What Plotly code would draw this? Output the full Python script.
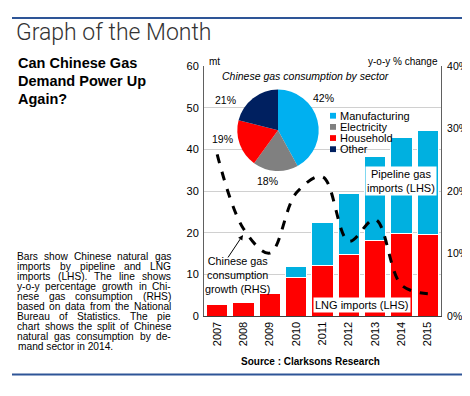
import plotly.graph_objects as go

# The page has an 8px body margin, so the figure is made 8px smaller and
# positions below are given in window pixels.
OFF = 8
W, H = 470 - OFF, 396 - OFF
def px(x): return (x - OFF) / W
def py(y): return 1 - (y - OFF) / H

years = ["2007", "2008", "2009", "2010", "2011", "2012", "2013", "2014", "2015"]
lng_imports = [2.9, 3.3, 5.5, 9.3, 12.2, 14.8, 18.1, 19.9, 19.7]
pipeline_imports = [0, 0, 0, 2.6, 10.3, 14.6, 20.3, 23.0, 24.8]
consumption_growth = [0.259, 0.14, 0.101, 0.197, 0.223, 0.12, 0.155, 0.05, 0.036]

sectors = ["Manufacturing", "Electricity", "Household", "Other"]
sector_share = [42, 18, 19, 21]
sector_colors = ["#00B0F0", "#808080", "#FF0000", "#002060"]

left_ticks = [0, 10, 20, 30, 40, 50, 60]
right_ticks = [0, 0.1, 0.2, 0.3, 0.4]
right_tick_text = ["0%", "10%", "20%", "30%", "40%"]

body = ["Bars show Chinese natural gas",
        "imports by pipeline and LNG",
        "imports (LHS). The line shows",
        "y-o-y percentage growth in Chi-",
        "nese gas consumption (RHS)",
        "based on data from the National",
        "Bureau of Statistics. The pie",
        "chart shows the split of Chinese",
        "natural gas consumption by de-",
        "mand sector in 2014."]

FONT = "Liberation Sans, Arial, sans-serif"

fig = go.Figure()
fig.add_trace(go.Bar(x=years, y=lng_imports, name="LNG imports (LHS)",
                     marker=dict(color="#FF0000", line=dict(color="white", width=1)),
                     showlegend=False))
fig.add_trace(go.Bar(x=years, y=pipeline_imports, name="Pipeline gas imports (LHS)",
                     marker=dict(color="#00B0E0", line=dict(color="white", width=1)),
                     showlegend=False))
fig.add_trace(go.Scatter(x=years, y=consumption_growth, yaxis="y2", mode="lines",
                         line=dict(color="black", width=3, dash="dash", shape="spline", smoothing=1.0),
                         showlegend=False))
fig.add_trace(go.Pie(labels=sectors, values=sector_share, sort=False, direction="clockwise",
                     rotation=0, marker=dict(colors=sector_colors), textinfo="none",
                     hoverinfo="skip", showlegend=False,
                     domain=dict(x=[px(236), px(320)], y=[py(170), py(86)])))

x0, x1 = 204, 441
y0, y1 = 320, 61.7
fig.update_layout(
    width=W, height=H, margin=dict(l=0, r=0, t=0, b=0),
    paper_bgcolor="white", plot_bgcolor="white",
    barmode="stack", bargap=0.2,
    font=dict(family=FONT, size=11, color="black"),
    xaxis=dict(domain=[px(x0), px(x1)], tickangle=-90, showline=True, linecolor="#404040",
               linewidth=1, ticks="", tickfont=dict(size=11), showgrid=False),
    yaxis=dict(domain=[py(y0), py(y1)], range=[0, 60], tickvals=left_ticks,
               showline=True, linecolor="#606060", linewidth=1, gridcolor="#D0D0D0",
               ticks="", tickfont=dict(size=11), zeroline=False, ticklabelstandoff=2),
    yaxis2=dict(overlaying="y", side="right", range=[0, 0.4], tickvals=right_ticks,
                ticktext=right_tick_text, showline=True, linecolor="#606060", linewidth=1,
                showgrid=False, ticks="", tickfont=dict(size=10.5), zeroline=False,
                ticklabelstandoff=3),
)

ann = []
def add(text, x, y, xa="left", size=11, **kw):
    d = dict(text=text, x=px(x), y=py(y), xref="paper", yref="paper", xanchor=xa,
             yanchor="middle", showarrow=False,
             font=dict(size=size, family=kw.pop("family", FONT), color=kw.pop("color", "black"),
                       weight=kw.pop("weight", "normal")))
    d.update(kw)
    ann.append(d)

add("Graph of the Month", 14, 27, size=23, color="#333333", family="Roboto, Liberation Sans, sans-serif", weight=300)
for i, line in enumerate(["Can Chinese Gas", "Demand Power Up", "Again?"]):
    add(line, 16, 59 + i * 18.2, size=14.5, weight="bold")

# Arial / Liberation Sans advance widths (per 1000 em) for justified body text
AW = {" ": 278, "a": 556, "b": 556, "c": 500, "d": 556, "e": 556, "f": 278, "g": 556,
      "h": 556, "i": 222, "j": 222, "k": 500, "l": 222, "m": 833, "n": 556, "o": 556,
      "p": 556, "q": 556, "r": 333, "s": 500, "t": 278, "u": 556, "v": 500, "w": 722,
      "x": 500, "y": 500, "z": 500, "B": 667, "C": 722, "H": 722, "L": 556, "N": 722,
      "R": 722, "S": 667, "T": 611, "G": 778, "(": 333, ")": 333, ".": 278, "-": 333,
      ",": 278}
def tw(s, size):
    return sum(AW.get(ch, 556) for ch in s) * size / 1000

BODY_SIZE = 10.2
LX, RX = 16, 170
for i, line in enumerate(body):
    yy = 258 + i * 10.4
    words = line.split(" ")
    if i == len(body) - 1 or len(words) == 1:
        add(line, LX, yy, size=BODY_SIZE)
        continue
    widths = [tw(w, BODY_SIZE) for w in words]
    gap = (RX - LX - sum(widths)) / (len(words) - 1)
    xx = LX
    for w, wd in zip(words, widths):
        add(w, xx, yy, size=BODY_SIZE, borderpad=0)
        xx += wd + gap

add("Source : Clarksons Research", 310, 367, xa="center", size=10, weight="bold")
add("mt", 207, 57, size=10)
add("y-o-y % change", 440, 57, xa="right", size=10)
add("<i>Chinese gas consumption by sector</i>", 305, 72, xa="center", size=10.5)
# pie labels
pie_lbl_pos = [(323, 95), (267, 180), (222, 137), (225, 97)]
for (lx, ly), v in zip(pie_lbl_pos, sector_share):
    add(f"{v}%", lx, ly, xa="center", size=10.5)
# pie legend
for i, (s, c) in enumerate(zip(sectors, sector_colors)):
    yy = 113 + i * 11.5
    add(s, 338, yy, size=11)
    fig.add_shape(type="rect", xref="paper", yref="paper",
                  x0=px(330), x1=px(336), y0=py(yy + 3), y1=py(yy - 3),
                  fillcolor=c, line=dict(width=0))
add("Pipeline gas<br>imports (LHS)", 401, 180, xa="center", size=11, bgcolor="white")
add("LNG imports (LHS)", 362, 308, xa="center", size=11, bgcolor="white")
add("Chinese gas<br>consumption<br>growth (RHS)", 237, 277, xa="center", size=10.8)
ann.append(dict(x=px(243), y=py(236), xref="paper", yref="paper", text="",
                showarrow=True, ax=-16, ay=24, arrowhead=2, arrowsize=1, arrowwidth=1,
                arrowcolor="black"))
fig.update_layout(annotations=ann)

for yy in (12, 380):
    fig.add_shape(type="line", xref="paper", yref="paper", x0=px(12), x1=1,
                  y0=py(yy), y1=py(yy), line=dict(color="#2E5597", width=2))

fig.write_html("out.html")
